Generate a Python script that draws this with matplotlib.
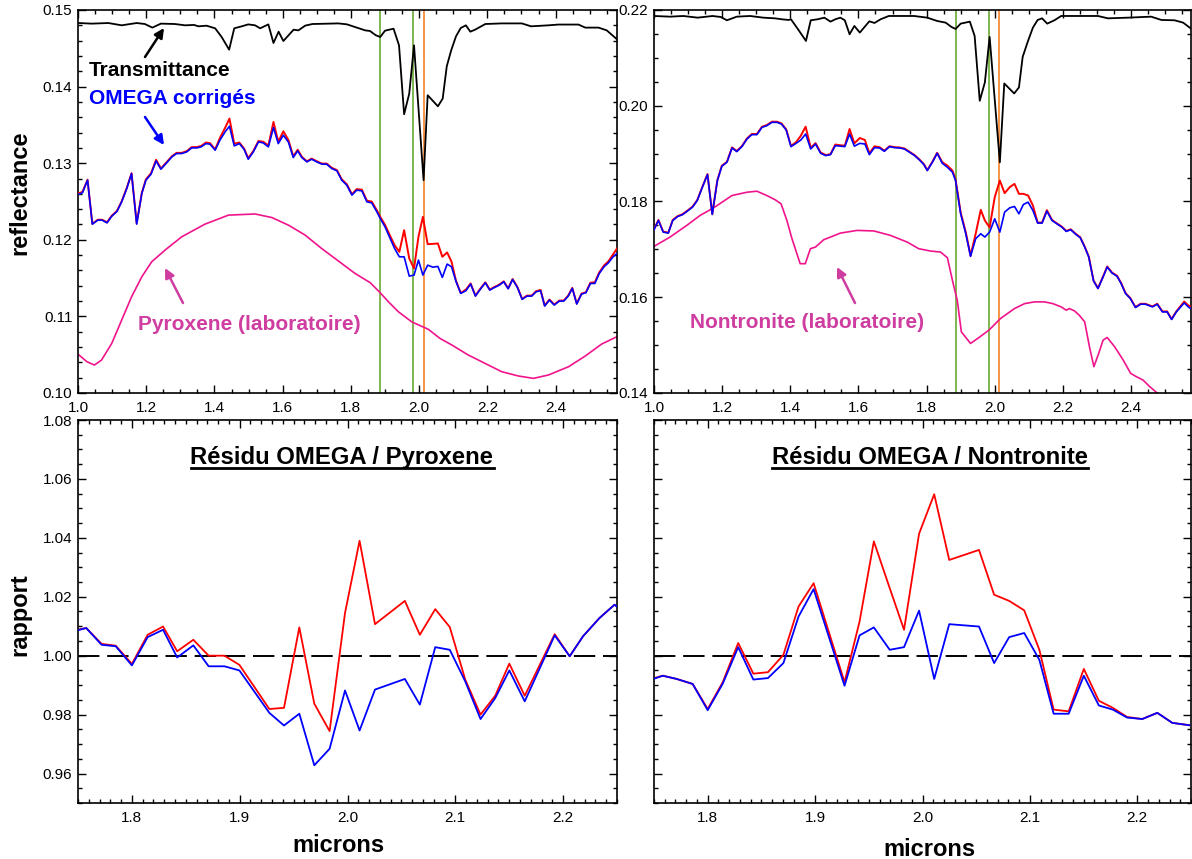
import matplotlib
matplotlib.use('Agg')
import matplotlib.pyplot as plt
from matplotlib.ticker import MultipleLocator, FormatStrFormatter
from matplotlib.lines import Line2D

plt.rcParams['font.family'] = ['Liberation Sans', 'DejaVu Sans']

W, H = 1192, 859

# ---------------- spectres : pyroxene (haut gauche) ----------------
pyr_omega_x = [1.003, 1.013, 1.028, 1.042, 1.058, 1.071, 1.085, 1.099, 1.114, 1.128,
               1.143, 1.157, 1.172, 1.187, 1.199, 1.214, 1.229, 1.243, 1.258, 1.275,
               1.289, 1.304, 1.319, 1.333, 1.348, 1.361, 1.375, 1.387, 1.402, 1.416,
               1.431, 1.444, 1.458, 1.473, 1.487, 1.499, 1.514, 1.529, 1.543, 1.558,
               1.573, 1.587, 1.602, 1.617, 1.631, 1.644, 1.656, 1.671, 1.685, 1.700,
               1.715, 1.729, 1.744, 1.759, 1.773, 1.788, 1.803, 1.817, 1.832, 1.847,
               1.861, 1.876, 1.886, 1.900, 1.915, 1.928, 1.942, 1.956, 1.971, 1.985,
               1.998, 2.011, 2.025, 2.040, 2.055, 2.068, 2.082, 2.095, 2.108, 2.122,
               2.137, 2.151, 2.165, 2.179, 2.194, 2.207, 2.221, 2.235, 2.248, 2.261,
               2.274, 2.288, 2.302, 2.316, 2.330, 2.343, 2.356, 2.368, 2.382, 2.396,
               2.411, 2.424, 2.437, 2.449, 2.462, 2.476, 2.489, 2.502, 2.515, 2.528,
               2.542, 2.555, 2.567, 2.580]
pyr_omega_blue = [.12596, .12613, .12778, .12204, .12256, .12256, .12221, .12308, .12369, .12495,
                  .12670, .12865, .12204, .12604, .12778, .12856, .13030, .12922, .12995, .13082,
                  .13126, .13126, .13148, .13200, .13200, .13213, .13256, .13248, .13170, .13300,
                  .13408, .13482, .13226, .13256, .13180, .13052, .13148, .13278, .13265, .13213,
                  .13465, .13256, .13365, .13274, .13074, .13161, .13074, .13017, .13052, .13017,
                  .12987, .12987, .12930, .12900, .12778, .12713, .12583, .12648, .12639, .12495,
                  .12482, .12365, .12278, .12169, .12017, .11887, .11778, .11778, .11526, .11539,
                  .11735, .11539, .11669, .11643, .11652, .11509, .11683, .11648, .11456, .11300,
                  .11335, .11422, .11265, .11352, .11439, .11343, .11378, .11408, .11452, .11360,
                  .11482, .11378, .11222, .11265, .11265, .11322, .11335, .11135, .11213, .11148,
                  .11200, .11200, .11265, .11365, .11161, .11291, .11309, .11430, .11430, .11560,
                  .11648, .11700, .11770, .11822]
pyr_omega_red = [.12610, .12625, .12785, .12210, .12262, .12262, .12228, .12315, .12376, .12502,
                 .12678, .12870, .12215, .12612, .12790, .12868, .13045, .12930, .13005, .13090,
                 .13135, .13135, .13158, .13210, .13210, .13225, .13270, .13262, .13180, .13330,
                 .13460, .13583, .13256, .13270, .13190, .13065, .13160, .13290, .13280, .13230,
                 .13539, .13280, .13417, .13300, .13090, .13175, .13085, .13025, .13060, .13025,
                 .12995, .12995, .12940, .12910, .12790, .12725, .12595, .12662, .12655, .12510,
                 .12500, .12385, .12300, .12195, .12050, .11930, .11843, .12126, .11756, .11626,
                 .12039, .12300, .11943, .11947, .11952, .11778, .11835, .11713, .11465, .11305,
                 .11350, .11430, .11270, .11360, .11445, .11350, .11385, .11415, .11458, .11366,
                 .11488, .11384, .11228, .11272, .11272, .11330, .11345, .11142, .11220, .11155,
                 .11207, .11207, .11272, .11372, .11168, .11298, .11316, .11440, .11445, .11575,
                 .11665, .11720, .11800, .11887]

pyr_trans_x = [1.003, 1.040, 1.089, 1.128, 1.172, 1.196, 1.218, 1.243, 1.284, 1.314,
               1.340, 1.353, 1.377, 1.402, 1.421, 1.443, 1.458, 1.480, 1.499, 1.519,
               1.534, 1.558, 1.573, 1.588, 1.602, 1.632, 1.646, 1.666, 1.687, 1.763,
               1.788, 1.812, 1.842, 1.856, 1.873, 1.886, 1.900, 1.925, 1.941, 1.956,
               1.971, 1.985, 2.013, 2.025, 2.055, 2.069, 2.081, 2.094, 2.108, 2.122,
               2.137, 2.150, 2.164, 2.194, 2.242, 2.301, 2.328, 2.379, 2.408, 2.467,
               2.487, 2.526, 2.550, 2.580]
pyr_trans = [.14830, .14822, .14830, .14800, .14830, .14817, .14770, .14822, .14817, .14800,
             .14805, .14787, .14795, .14761, .14648, .14482, .14761, .14787, .14812, .14800,
             .14761, .14812, .14569, .14717, .14595, .14743, .14734, .14796, .14817, .14825,
             .14813, .14778, .14734, .14726, .14670, .14648, .14730, .14756, .14539, .13639,
             .13909, .14539, .12778, .13887, .13743, .13843, .14265, .14474, .14656, .14765,
             .14800, .14717, .14743, .14817, .14825, .14825, .14787, .14800, .14810, .14810,
             .14770, .14770, .14734, .14617]

pyr_lab_x = [1.003, 1.026, 1.048, 1.069, 1.099, 1.128, 1.157, 1.187, 1.216, 1.255,
             1.304, 1.372, 1.441, 1.519, 1.568, 1.617, 1.666, 1.714, 1.773, 1.812,
             1.857, 1.886, 1.910, 1.939, 1.978, 2.027, 2.061, 2.096, 2.144, 2.193,
             2.242, 2.291, 2.335, 2.379, 2.438, 2.487, 2.535, 2.580]
pyr_lab = [.10496, .10409, .10365, .10430, .10648, .10952, .11256, .11517, .11713, .11865,
           .12039, .12204, .12322, .12337, .12291, .12191, .12061, .11887, .11691, .11561,
           .11439, .11308, .11191, .11061, .10930, .10831, .10713, .10626, .10496, .10387,
           .10278, .10222, .10191, .10235, .10343, .10483, .10639, .10735]

# ---------------- spectres : nontronite (haut droite) ----------------
non_omega_x = [1.000, 1.013, 1.027, 1.042, 1.055, 1.070, 1.083, 1.098, 1.113, 1.127,
               1.142, 1.157, 1.171, 1.186, 1.199, 1.214, 1.229, 1.243, 1.258, 1.273,
               1.287, 1.302, 1.317, 1.331, 1.346, 1.361, 1.374, 1.388, 1.402, 1.417,
               1.431, 1.445, 1.460, 1.474, 1.489, 1.504, 1.518, 1.532, 1.547, 1.560,
               1.574, 1.588, 1.604, 1.619, 1.632, 1.647, 1.662, 1.676, 1.691, 1.706,
               1.721, 1.735, 1.750, 1.765, 1.779, 1.792, 1.802, 1.817, 1.831, 1.846,
               1.861, 1.876, 1.885, 1.900, 1.915, 1.929, 1.944, 1.959, 1.971, 1.985,
               2.000, 2.015, 2.029, 2.044, 2.058, 2.071, 2.084, 2.098, 2.112, 2.126,
               2.139, 2.153, 2.168, 2.182, 2.197, 2.210, 2.223, 2.238, 2.251, 2.264,
               2.276, 2.290, 2.303, 2.318, 2.330, 2.344, 2.359, 2.371, 2.384, 2.398,
               2.413, 2.428, 2.442, 2.463, 2.477, 2.492, 2.506, 2.519, 2.533, 2.556,
               2.568, 2.582]
non_omega_blue = [.17410, .17604, .17361, .17340, .17604, .17688, .17722, .17799, .17882, .18021,
                  .18299, .18563, .17729, .18438, .18736, .18819, .19118, .19042, .19146, .19306,
                  .19396, .19396, .19549, .19583, .19653, .19653, .19618, .19493, .19146, .19215,
                  .19285, .19410, .19097, .19201, .19007, .18958, .18979, .19167, .19156, .19146,
                  .19410, .19156, .19215, .19201, .18979, .19125, .19118, .19049, .19146, .19125,
                  .19118, .19097, .19028, .18958, .18868, .18771, .18646, .18819, .19007, .18799,
                  .18715, .18611, .18438, .17743, .17326, .16854, .17222, .17326, .17257, .17361,
                  .17639, .17361, .17778, .17868, .17896, .17743, .17938, .17986, .17813, .17549,
                  .17549, .17799, .17604, .17535, .17465, .17375, .17410, .17313, .17243, .17049,
                  .16840, .16340, .16181, .16424, .16632, .16507, .16438, .16285, .16076, .15972,
                  .15785, .15854, .15854, .15799, .15854, .15694, .15694, .15535, .15694, .15882,
                  .15799, .15729]
non_omega_red = [.17420, .17614, .17371, .17350, .17614, .17698, .17732, .17809, .17892, .18031,
                 .18309, .18573, .17740, .18448, .18746, .18829, .19130, .19055, .19158, .19318,
                 .19410, .19410, .19563, .19597, .19667, .19667, .19632, .19507, .19160, .19240,
                 .19375, .19563, .19120, .19220, .19025, .18970, .18990, .19190, .19175, .19165,
                 .19514, .19215, .19326, .19285, .19007, .19153, .19135, .19060, .19155, .19135,
                 .19128, .19107, .19038, .18968, .18878, .18781, .18656, .18829, .19017, .18820,
                 .18750, .18646, .18460, .17770, .17360, .16870, .17326, .17826, .17604, .17458,
                 .18090, .18438, .18174, .18299, .18368, .18160, .18160, .18125, .17917, .17560,
                 .17560, .17820, .17615, .17545, .17475, .17385, .17420, .17323, .17253, .17059,
                 .16850, .16350, .16191, .16434, .16642, .16517, .16448, .16295, .16086, .15982,
                 .15795, .15864, .15864, .15809, .15864, .15704, .15704, .15545, .15704, .15910,
                 .15830, .15785]

non_trans_x = [1.000, 1.047, 1.086, 1.128, 1.172, 1.196, 1.214, 1.243, 1.282, 1.321,
               1.355, 1.375, 1.395, 1.402, 1.426, 1.446, 1.460, 1.480, 1.500, 1.518,
               1.532, 1.547, 1.560, 1.574, 1.588, 1.604, 1.632, 1.647, 1.665, 1.689,
               1.763, 1.802, 1.831, 1.856, 1.873, 1.885, 1.900, 1.927, 1.941, 1.956,
               1.971, 1.985, 2.015, 2.028, 2.057, 2.071, 2.082, 2.097, 2.112, 2.126,
               2.139, 2.154, 2.175, 2.195, 2.303, 2.332, 2.391, 2.459, 2.489, 2.528,
               2.553, 2.582]
non_trans = [.21875, .21861, .21875, .21840, .21875, .21854, .21785, .21861, .21875, .21840,
             .21826, .21806, .21792, .21806, .21563, .21354, .21785, .21806, .21840, .21757,
             .21806, .21840, .21785, .21493, .21667, .21528, .21764, .21729, .21806, .21875,
             .21875, .21840, .21771, .21736, .21646, .21604, .21715, .21757, .21458, .20104,
             .20486, .21438, .18819, .20465, .20257, .20382, .21021, .21340, .21632, .21792,
             .21826, .21715, .21785, .21875, .21875, .21826, .21840, .21861, .21792, .21785,
             .21736, .21578]

non_lab_x = [1.000, 1.047, 1.096, 1.135, 1.175, 1.229, 1.273, 1.302, 1.331, 1.356,
             1.373, 1.390, 1.405, 1.429, 1.444, 1.459, 1.474, 1.498, 1.518, 1.547,
             1.596, 1.645, 1.694, 1.743, 1.777, 1.812, 1.841, 1.861, 1.878, 1.890,
             1.902, 1.929, 1.954, 1.983, 2.017, 2.058, 2.088, 2.117, 2.146, 2.170,
             2.195, 2.210, 2.219, 2.234, 2.248, 2.264, 2.278, 2.291, 2.305, 2.318,
             2.330, 2.352, 2.377, 2.399, 2.416, 2.435, 2.455, 2.478]
non_lab = [.17063, .17257, .17500, .17708, .17868, .18125, .18194, .18215, .18125, .18035,
           .17951, .17604, .17222, .16701, .16701, .17014, .17049, .17201, .17257, .17340,
           .17396, .17385, .17292, .17153, .17014, .16965, .16944, .16826, .16285, .15938,
           .15278, .15035, .15160, .15313, .15556, .15764, .15868, .15903, .15903, .15868,
           .15799, .15729, .15764, .15715, .15625, .15486, .14965, .14549, .14826, .15104,
           .15160, .14965, .14688, .14410, .14340, .14271, .14132, .13993]

# bandes marquees
green_lines = [1.885, 1.983]
orange_line = 2.013

# ---------------- residus (bas) ----------------
res_pyr_x = [1.7494, 1.7576, 1.7719, 1.7850, 1.8000, 1.8146, 1.8289, 1.8420, 1.8570, 1.8712,
             1.8858, 1.8997, 1.9275, 1.9411, 1.9553, 1.9692, 1.9834, 1.9977, 2.0112, 2.0255,
             2.0532, 2.0671, 2.0814, 2.0949, 2.1092, 2.1234, 2.1370, 2.1501, 2.1644, 2.1922,
             2.2061, 2.2185, 2.2338, 2.2477, 2.2615]
res_pyr_red = [1.0088, 1.0094, 1.0040, 1.0034, 0.9972, 1.0071, 1.0099, 1.0015, 1.0054, 1.0000,
               1.0000, 0.9969, 0.9819, 0.9823, 1.0096, 0.9837, 0.9744, 1.0145, 1.0390, 1.0107,
               1.0186, 1.0071, 1.0158, 1.0097, 0.9919, 0.9800, 0.9864, 0.9973, 0.9864, 1.0073,
               0.9998, 1.0066, 1.0128, 1.0173, 1.0135]
res_pyr_blue = [1.0086, 1.0094, 1.0037, 1.0032, 0.9967, 1.0063, 1.0088, 0.9994, 1.0035, 0.9964,
                0.9964, 0.9950, 0.9806, 0.9763, 0.9803, 0.9628, 0.9684, 0.9882, 0.9746, 0.9885,
                0.9921, 0.9834, 1.0029, 1.0020, 0.9913, 0.9785, 0.9856, 0.9950, 0.9845, 1.0069,
                0.9998, 1.0066, 1.0128, 1.0173, 1.0135]

res_non_x = [1.7502, 1.7582, 1.7712, 1.7860, 1.8000, 1.8140, 1.8284, 1.8425, 1.8561, 1.8705,
             1.8846, 1.8986, 1.9274, 1.9414, 1.9547, 1.9695, 1.9828, 1.9968, 2.0109, 2.0249,
             2.0526, 2.0667, 2.0807, 2.0947, 2.1088, 2.1221, 2.1361, 2.1502, 2.1642, 2.1772,
             2.1905, 2.2046, 2.2186, 2.2326, 2.2484]
res_non_red = [0.9924, 0.9932, 0.9921, 0.9904, 0.9819, 0.9910, 1.0043, 0.9939, 0.9944, 1.0003,
               1.0167, 1.0246, 0.9910, 1.0116, 1.0388, 1.0229, 1.0088, 1.0414, 1.0548, 1.0325,
               1.0359, 1.0207, 1.0186, 1.0154, 1.0020, 0.9817, 0.9811, 0.9955, 0.9847, 0.9823,
               0.9792, 0.9785, 0.9806, 0.9772, 0.9764]
res_non_blue = [0.9922, 0.9932, 0.9921, 0.9904, 0.9815, 0.9905, 1.0029, 0.9919, 0.9924, 0.9975,
                1.0133, 1.0226, 0.9898, 1.0069, 1.0096, 1.0020, 1.0029, 1.0153, 0.9921, 1.0107,
                1.0099, 0.9975, 1.0063, 1.0077, 0.9986, 0.9803, 0.9803, 0.9932, 0.9831, 0.9817,
                0.9790, 0.9785, 0.9806, 0.9772, 0.9764]

RED = '#ff0000'
BLUE = '#0000ff'
PINK = '#f0148c'
PINK_TXT = '#cf3da0'
GREEN = '#76b043'
ORANGE = '#f58b3c'


def box(l, t, r, b):
    return [l / W, 1 - b / H, (r - l) / W, (b - t) / H]


def style(ax, xmaj, xmin, ymaj, ymin, yfmt='%.2f'):
    ax.xaxis.set_major_locator(MultipleLocator(xmaj))
    ax.xaxis.set_minor_locator(MultipleLocator(xmin))
    ax.yaxis.set_major_locator(MultipleLocator(ymaj))
    ax.yaxis.set_minor_locator(MultipleLocator(ymin))
    ax.xaxis.set_major_formatter(FormatStrFormatter('%.1f'))
    ax.yaxis.set_major_formatter(FormatStrFormatter(yfmt))
    ax.tick_params(which='both', direction='in', top=True, right=True,
                   labelsize=11, width=1.0, pad=4)
    ax.tick_params(which='major', length=6)
    ax.tick_params(which='minor', length=3)
    ax.tick_params(axis='x', pad=6)
    for s in ax.spines.values():
        s.set_linewidth(1.2)


fig = plt.figure(figsize=(W / 100, H / 100), dpi=100)

ax_tl = fig.add_axes(box(78, 10, 617, 393))
ax_tr = fig.add_axes(box(654, 10, 1191, 393))
ax_bl = fig.add_axes(box(78, 420, 617, 803))
ax_br = fig.add_axes(box(654, 420, 1191, 803))

# haut gauche
for gx in green_lines:
    ax_tl.axvline(gx, color=GREEN, lw=1.3, zorder=1)
ax_tl.axvline(orange_line, color=ORANGE, lw=1.3, zorder=1)
ax_tl.plot(pyr_trans_x, pyr_trans, color='black', lw=1.3, zorder=3)
ax_tl.plot(pyr_lab_x, pyr_lab, color=PINK, lw=1.2, zorder=2)
ax_tl.plot(pyr_omega_x, pyr_omega_red, color=RED, lw=1.4, zorder=3)
ax_tl.plot(pyr_omega_x, pyr_omega_blue, color=BLUE, lw=1.2, zorder=4)
ax_tl.set_xlim(1.0, 2.58)
ax_tl.set_ylim(0.10, 0.15)
style(ax_tl, 0.2, 0.05, 0.01, 0.002)

# haut droite
for gx in green_lines:
    ax_tr.axvline(gx, color=GREEN, lw=1.3, zorder=1)
ax_tr.axvline(orange_line, color=ORANGE, lw=1.3, zorder=1)
ax_tr.plot(non_trans_x, non_trans, color='black', lw=1.3, zorder=3)
ax_tr.plot(non_lab_x, non_lab, color=PINK, lw=1.2, zorder=2)
ax_tr.plot(non_omega_x, non_omega_red, color=RED, lw=1.4, zorder=3)
ax_tr.plot(non_omega_x, non_omega_blue, color=BLUE, lw=1.2, zorder=4)
ax_tr.set_xlim(1.0, 2.576)
ax_tr.set_ylim(0.14, 0.22)
style(ax_tr, 0.2, 0.05, 0.02, 0.005)

# bas
for ax, xs, r, b in [(ax_bl, res_pyr_x, res_pyr_red, res_pyr_blue),
                     (ax_br, res_non_x, res_non_red, res_non_blue)]:
    ax.axhline(1.0, color='black', lw=1.4, dashes=(11, 4), zorder=1)
    ax.plot(xs, r, color=RED, lw=1.3, zorder=2)
    ax.plot(xs, b, color=BLUE, lw=1.3, zorder=3)
    ax.set_xlim(1.75, 2.25)
    ax.set_ylim(0.95, 1.08)
    style(ax, 0.1, 0.01, 0.02, 0.005)
ax_br.tick_params(labelleft=False)


def ftext(px, py, s, **kw):
    return fig.text(px / W, 1 - py / H, s, **kw)


ftext(20, 193, 'reflectance', rotation=90, ha='center', va='center',
      fontsize=17, fontweight='bold')
ftext(20, 615, 'rapport', rotation=90, ha='center', va='center',
      fontsize=17, fontweight='bold')
ftext(338, 846, 'microns', ha='center', va='center', fontsize=17, fontweight='bold')
ftext(929, 849, 'microns', ha='center', va='center', fontsize=17, fontweight='bold')

ftext(89, 70, 'Transmittance', ha='left', va='center', fontsize=15, fontweight='bold',
      color='black')
ftext(89, 99, 'OMEGA corrigés', ha='left', va='center', fontsize=15, fontweight='bold',
      color=BLUE)
ftext(138, 325, 'Pyroxene (laboratoire)', ha='left', va='center', fontsize=15,
      fontweight='bold', color=PINK_TXT)
ftext(690, 323, 'Nontronite (laboratoire)', ha='left', va='center', fontsize=15,
      fontweight='bold', color=PINK_TXT)

arrows = [((145, 57), (164, 28), 'black'),
          ((145, 117), (164, 145), BLUE),
          ((183, 303), (165, 268), PINK_TXT),
          ((855, 303), (837, 267), PINK_TXT)]
for (x0, y0), (x1, y1), c in arrows:
    fig.add_artist(plt.Annotation('', xy=(x1, H - y1), xytext=(x0, H - y0),
                                  xycoords='figure pixels', textcoords='figure pixels',
                                  arrowprops=dict(arrowstyle='-|>', color=c, lw=1.8,
                                                  mutation_scale=14, shrinkA=0, shrinkB=0)))

titles = [ftext(342, 464, 'Résidu OMEGA / Pyroxene', ha='center', va='baseline',
                fontsize=17.2, fontweight='bold'),
          ftext(930, 464, 'Résidu OMEGA / Nontronite', ha='center', va='baseline',
                fontsize=17.2, fontweight='bold')]

fig.canvas.draw()
inv = fig.transFigure.inverted()
for t in titles:
    bb = t.get_window_extent()
    (fx0, fy), (fx1, _) = inv.transform([(bb.x0, (H - 468)), (bb.x1, (H - 468))])
    fig.add_artist(Line2D([fx0, fx1], [fy, fy], color='black', lw=2.0,
                          transform=fig.transFigure))

fig.savefig('out.png', dpi=100)
